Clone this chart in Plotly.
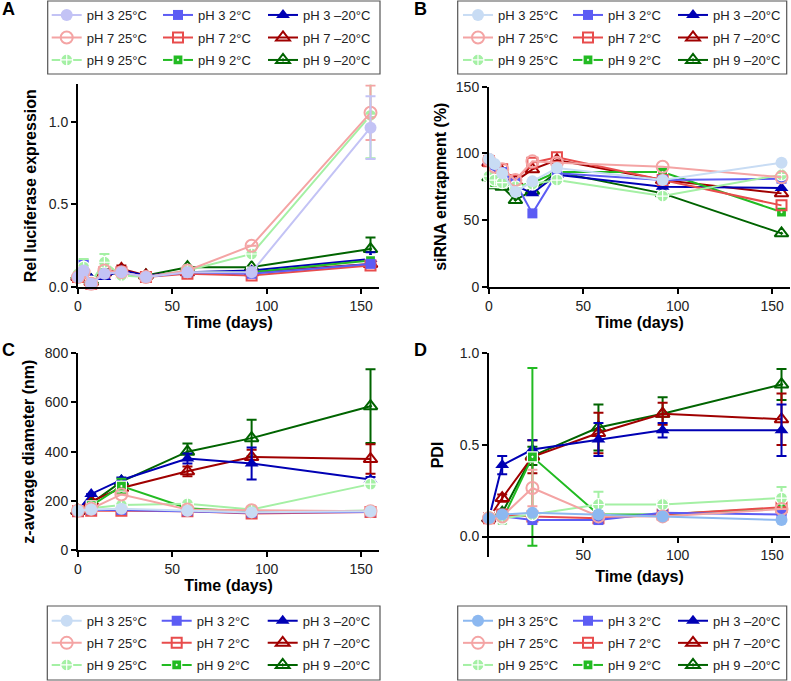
import plotly.graph_objects as go

W, H = 791, 681
FONT = "Liberation Sans, Arial, sans-serif"

series_names = ["pH 3 25°C", "pH 7 25°C", "pH 9 25°C",
                "pH 3 2°C", "pH 7 2°C", "pH 9 2°C",
                "pH 3 –20°C", "pH 7 –20°C", "pH 9 –20°C"]

# ---------------- Panel A: relative luciferase expression ----------------
a_days = [0, 3, 7, 14, 23, 36, 58, 92, 155]
a_values = [
    [0.06, 0.10, 0.02, 0.08, 0.09, 0.06, 0.09, 0.09, 0.965],
    [0.06, 0.09, 0.02, 0.10, 0.09, 0.06, 0.10, 0.25, 1.055],
    [0.08, 0.12, 0.03, 0.15, 0.07, 0.06, 0.10, 0.20, 1.04],
    [0.07, 0.13, 0.03, 0.08, 0.09, 0.06, 0.09, 0.08, 0.14],
    [0.06, 0.08, 0.02, 0.09, 0.09, 0.06, 0.08, 0.07, 0.13],
    [0.07, 0.10, 0.03, 0.09, 0.08, 0.06, 0.09, 0.09, 0.16],
    [0.06, 0.07, 0.05, 0.06, 0.10, 0.07, 0.09, 0.10, 0.17],
    [0.06, 0.08, 0.03, 0.09, 0.11, 0.07, 0.09, 0.09, 0.14],
    [0.07, 0.09, 0.04, 0.09, 0.10, 0.07, 0.12, 0.12, 0.23],
]
a_errors = [
    [None, None, None, None, None, None, None, None, 0.19],
    [None, None, None, None, None, None, None, None, 0.165],
    [None, 0.05, None, 0.05, None, None, None, None, 0.26],
    [None, 0.03, None, None, None, None, None, None, None],
    [None, None, None, None, None, None, None, None, None],
    [None, None, None, None, None, None, None, None, None],
    [None, None, None, None, None, None, None, None, 0.04],
    [None, None, None, None, 0.02, None, None, None, None],
    [None, None, None, None, None, None, None, None, 0.07],
]

# ---------------- Panel B: siRNA entrapment ----------------
b_days = [0, 3, 7, 14, 23, 36, 92, 155]
b_values = [
    [96, 92, 85, 71, 79, 89, 80, 93],
    [95, 90, 88, 80, 94, 93, 90, 82],
    [83, 80, 78, 75, 77, 80, 68, 84],
    [95, 90, 86, 78, 55, 85, 80, 81],
    [94, 85, 88, 80, 93, 97, 80, 61],
    [82, 78, 78, 75, 78, 86, 86, 56],
    [94, 88, 84, 76, 70, 84, 75, 74],
    [93, 88, 86, 79, 88, 95, 80, 70],
    [82, 76, 75, 65, 72, 86, 70, 40],
]

# ---------------- Panel C: z-average diameter ----------------
c_days = [0, 7, 23, 58, 92, 155]
c_values = [
    [160, 165, 168, 160, 153, 158],
    [160, 168, 226, 165, 162, 158],
    [162, 170, 183, 188, 165, 268],
    [158, 163, 163, 158, 152, 155],
    [158, 160, 160, 158, 148, 155],
    [160, 180, 260, 170, 155, 160],
    [160, 228, 285, 372, 352, 287],
    [160, 198, 252, 320, 378, 370],
    [160, 190, 278, 400, 455, 585],
]
c_errors = [
    [None, None, None, None, None, None],
    [None, None, None, None, None, None],
    [None, None, None, None, None, None],
    [None, None, None, None, None, None],
    [None, None, None, None, None, None],
    [None, None, 30, None, None, None],
    [None, None, 10, 20, 65, 10],
    [None, None, None, 20, 30, 60],
    [None, None, None, 33, 75, 150],
]

# ---------------- Panel D: PDI ----------------
d_days = [0, 7, 23, 58, 92, 155]
d_values = [
    [0.10, 0.12, 0.13, 0.12, 0.11, 0.09],
    [0.10, 0.11, 0.265, 0.11, 0.11, 0.15],
    [0.11, 0.10, 0.12, 0.175, 0.175, 0.21],
    [0.10, 0.11, 0.09, 0.09, 0.13, 0.12],
    [0.10, 0.12, 0.11, 0.10, 0.12, 0.16],
    [0.11, 0.09, 0.435, 0.12, 0.12, 0.155],
    [0.10, 0.39, 0.475, 0.53, 0.58, 0.58],
    [0.10, 0.21, 0.435, 0.565, 0.67, 0.64],
    [0.10, 0.13, 0.44, 0.595, 0.67, 0.83],
]
d_errors = [
    [None, None, None, None, None, None],
    [None, None, 0.10, None, None, None],
    [None, None, None, 0.07, 0.02, 0.06],
    [None, None, None, None, None, None],
    [None, None, None, None, None, None],
    [None, None, 0.485, None, None, None],
    [None, 0.05, 0.05, 0.09, 0.04, 0.14],
    [None, 0.02, 0.09, 0.11, 0.06, 0.14],
    [None, None, 0.05, 0.125, 0.09, 0.085],
]

# ---------------- styles ----------------
base_colors = ["#c3c3f5", "#f4a4a4", "#a4f0a4",
               "#5c5cf4", "#e84c4c", "#22bb22",
               "#0000b4", "#a00000", "#006400"]
ph3_25_colors = {"A": "#c3c3f5", "B": "#c8dcf4", "C": "#c8dcf4", "D": "#8cb8f0"}
symbols = ["circle", "circle-open", "circle-cross",
           "square", "square-open", "square-dot",
           "triangle-up", "triangle-up-open", "triangle-up-open-dot"]
sizes = [12, 12, 12, 10, 10, 10, 12, 12, 12]
draw_order = [8, 7, 6, 5, 4, 3, 2, 1, 0]

panels = [
    ("A", "x", "y", a_days, a_values, a_errors),
    ("B", "x2", "y2", b_days, b_values, None),
    ("C", "x3", "y3", c_days, c_values, c_errors),
    ("D", "x4", "y4", d_days, d_values, d_errors),
]

# legend cell centres (pixels) per panel: columns (x) and rows (y)
legend_cols = {"A": [66.7, 178, 283], "B": [478, 588, 693],
               "C": [66.7, 176.7, 282.7], "D": [478, 588, 693]}
legend_rows = {"A": [15, 37.5, 60], "B": [15, 37.5, 60],
               "C": [620.7, 642.9, 665], "D": [620.7, 642.9, 665]}
legend_boxes = {"A": (47.7, 1, 380, 74), "B": (457.7, 1, 786.7, 74),
                "C": (47.3, 606, 380, 680), "D": (457.7, 606, 786.7, 680)}

fig = go.Figure()
layout_legends = {}

for p_idx, (pname, xa, ya, days, values, errors) in enumerate(panels):
    for i in draw_order:
        color = base_colors[i] if i != 0 else ph3_25_colors[pname]
        sym = symbols[i]
        marker = dict(symbol=sym, size=sizes[i], color=color)
        if sym.endswith("open") or sym.endswith("open-dot"):
            marker["line"] = dict(width=2, color=color)
        elif sym in ("circle-cross", "square-dot"):
            marker["line"] = dict(width=1.2, color="#ffffff")
        else:
            marker["line"] = dict(width=0)
        err = None
        if errors is not None:
            err = dict(type="data", array=errors[i], visible=True,
                       color=color, thickness=2, width=5)
        legend_counter = p_idx * 9 + i + 1
        lname = "legend" if legend_counter == 1 else f"legend{legend_counter}"
        fig.add_trace(go.Scatter(
            x=days, y=values[i], mode="lines+markers",
            name=series_names[i], xaxis=xa, yaxis=ya,
            line=dict(color=color, width=2), marker=marker,
            error_y=err, cliponaxis=False, legend=lname, showlegend=True,
        ))
        col = i // 3
        row = i % 3
        mx = legend_cols[pname][col]
        my = legend_rows[pname][row]
        layout_legends[lname] = dict(
            x=(mx - 20) / W, y=1 - my / H, xanchor="left", yanchor="middle",
            xref="paper", yref="paper",
            bgcolor="rgba(0,0,0,0)", borderwidth=0, itemwidth=30,
            font=dict(family=FONT, size=13, color="#222222"),
        )


def xdom(a, b):
    return [a / W, b / W]


def ydom(top, bottom):
    return [1 - bottom / H, 1 - top / H]


axis_common = dict(showline=True, linecolor="black", linewidth=2,
                   ticks="outside", ticklen=5, tickwidth=2, tickcolor="black",
                   showgrid=False, zeroline=False,
                   tickfont=dict(family=FONT, size=14, color="#222222"),
                   automargin=False)
title_font = dict(family=FONT, size=16, color="black", weight=700)

fig.update_layout(
    width=W, height=H, margin=dict(l=0, r=0, t=0, b=0, autoexpand=False),
    paper_bgcolor="white", plot_bgcolor="white", showlegend=True,
    font=dict(family=FONT),
    # Panel A
    xaxis=dict(domain=xdom(78, 379), range=[0, 159.5], anchor="y",
               tickvals=[0, 50, 100, 150],
               title=dict(text="Time (days)", font=title_font, standoff=4),
               **axis_common),
    yaxis=dict(domain=ydom(84.4, 287), range=[0, 1.227], anchor="x",
               tickvals=[0, 0.5, 1.0], ticktext=["0.0", "0.5", "1.0"],
               title=dict(text="Rel luciferase expression", font=title_font, standoff=8),
               **axis_common),
    # Panel B
    xaxis2=dict(domain=xdom(489, 790), range=[0, 159.5], anchor="y2",
                tickvals=[0, 50, 100, 150],
                title=dict(text="Time (days)", font=title_font, standoff=4),
                **axis_common),
    yaxis2=dict(domain=ydom(86.7, 286.7), range=[0, 150], anchor="x2",
                tickvals=[0, 50, 100, 150],
                title=dict(text="siRNA entrapment (%)", font=title_font, standoff=5),
                **axis_common),
    # Panel C
    xaxis3=dict(domain=xdom(78, 379), range=[0, 159.5], anchor="y3",
                tickvals=[0, 50, 100, 150],
                title=dict(text="Time (days)", font=title_font, standoff=4),
                **axis_common),
    yaxis3=dict(domain=ydom(353.3, 550), range=[0, 800], anchor="x3",
                tickvals=[0, 200, 400, 600, 800],
                title=dict(text="z-average diameter (nm)", font=title_font, standoff=6),
                **axis_common),
    # Panel D
    xaxis4=dict(domain=xdom(489, 790), range=[0, 159.5], anchor="free",
                position=1 - 536.7 / H,
                tickvals=[50, 100, 150],
                title=dict(text="Time (days)", font=title_font, standoff=8),
                **axis_common),
    yaxis4=dict(domain=ydom(353.3, 556.7), range=[-0.11, 1.0], anchor="x4",
                tickvals=[0, 0.5, 1.0], ticktext=["0.0", "0.5", "1.0"],
                title=dict(text="PDI", font=title_font, standoff=12),
                **axis_common),
    **layout_legends,
)

# Panel letters
for letter, (lx, ly) in {"A": (8.5, 9), "B": (420, 9), "C": (8.5, 350), "D": (420, 350)}.items():
    fig.add_annotation(text=f"<b>{letter}</b>", x=lx / W, y=1 - ly / H, xref="paper", yref="paper",
                       showarrow=False, xanchor="center", yanchor="middle",
                       font=dict(family=FONT, size=18, color="black"))

# Legend frames
for pname, (x0, y0, x1, y1) in legend_boxes.items():
    fig.add_shape(type="rect", xref="paper", yref="paper",
                  x0=x0 / W, x1=x1 / W, y0=1 - y1 / H, y1=1 - y0 / H,
                  line=dict(color="#555555", width=1.2), fillcolor="rgba(0,0,0,0)")

fig.write_html("out.html", config={"displayModeBar": False},
               post_script="document.body.style.margin='0px';document.body.style.overflow='hidden';")
